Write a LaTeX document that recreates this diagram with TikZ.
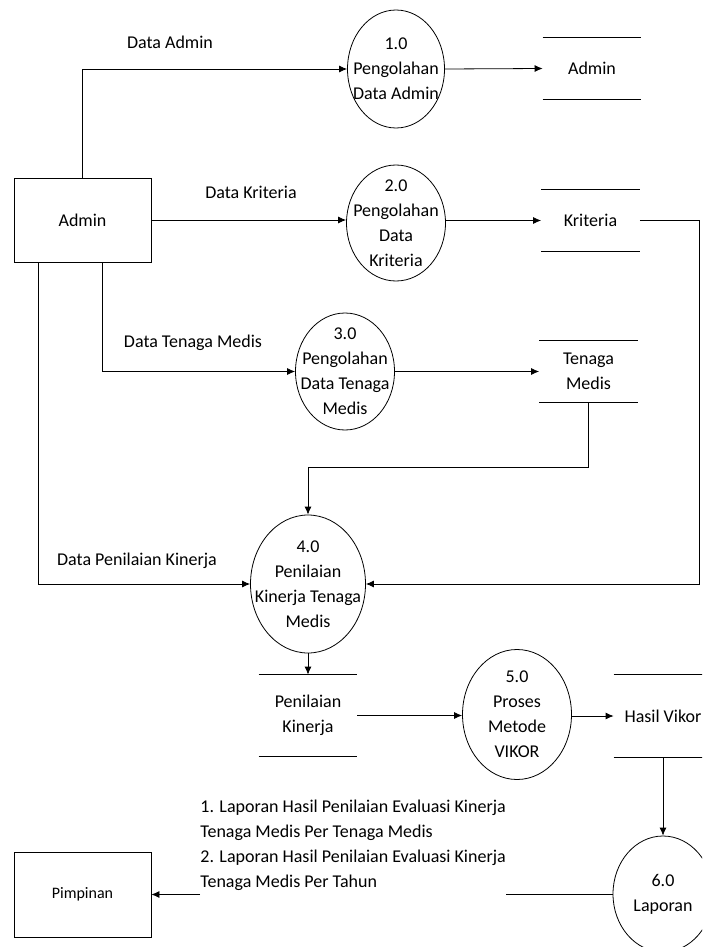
\documentclass[tikz,border=0pt]{standalone}
\usepackage{fontspec}
\setmainfont{Carlito}
\usetikzlibrary{arrows,arrows.meta,shapes,positioning}
\tikzset{
    basic/.style  = {font=\fontsize{18}{25}\selectfont, align=center},
    entity/.style = {basic, draw, rectangle, minimum width=137pt, minimum height=84pt},
    proc/.style   = {basic, draw, ellipse, inner sep=0pt},
    store/.style  = {basic, rectangle, inner sep=0pt, minimum width=98pt, minimum height=61pt},
    flow/.style   = {basic, inner sep=0pt}
}
\begin{document}
\begin{tikzpicture}[x=1pt, y=-1pt, line width=0.8pt, >={Latex[length=8pt,width=7pt]}]
	\useasboundingbox (0,0) rectangle (702,947);
	\clip (0,0) rectangle (702,947);
	% external entities
	\node[entity] (admin) at (82.5,220) {Admin};
	\node[entity, minimum height=85pt, font=\fontsize{16}{20}\selectfont] (pim) at (82.5,894.5) {Pimpinan};
	% processes
	\node[proc, minimum width=97pt, minimum height=118pt,
		label={[basic]center:1.0\\Pengolahan\\Data Admin}] (p1) at (396,69) {};
	\node[proc, minimum width=99pt, minimum height=116pt,
		label={[basic]center:2.0\\Pengolahan\\Data\\Kriteria}] (p2) at (396,223) {};
	\node[proc, minimum width=99pt, minimum height=117pt,
		label={[basic]center:3.0\\Pengolahan\\Data Tenaga\\Medis}] (p3) at (345,371.5) {};
	\node[proc, minimum width=115pt, minimum height=138pt,
		label={[basic]center:4.0\\Penilaian\\Kinerja Tenaga\\Medis}] (p4) at (308,584) {};
	\node[proc, minimum width=109pt, minimum height=130pt,
		label={[basic]center:5.0\\Proses\\Metode\\VIKOR}] (p5) at (517,714.5) {};
	\node[proc, minimum width=100pt, minimum height=116pt,
		label={[basic]center:6.0\\Laporan}] (p6) at (663,894) {};
	% data stores
	\node[store] (sa) at (592,68.5) {Admin};
	\node[store] (sk) at (590.5,220.5) {Kriteria};
	\node[store] (st) at (588.5,371.5) {Tenaga\\Medis};
	\node[store, minimum height=81pt] (sp) at (308,715.5) {Penilaian\\Kinerja};
	\node[store, minimum height=82pt] (sh) at (663,716) {Hasil Vikor};
	\foreach \s in {sa,sk,st,sp,sh}
		\draw (\s.north west) -- (\s.north east) (\s.south west) -- (\s.south east);
	% flow labels
	\node[flow] (fadmin) at (170,42) {Data Admin};
	\node[flow] (fkrit) at (251,192) {Data Kriteria};
	\node[flow] (ftenaga) at (193,343) {Data Tenaga Medis};
	\node[flow] (fnilai) at (137,561) {Data Penilaian Kinerja};
	\node[flow, anchor=west, align=left] (flap) at (200,845)
		{1. Laporan Hasil Penilaian Evaluasi Kinerja\\Tenaga Medis Per Tenaga Medis\\2. Laporan Hasil Penilaian Evaluasi Kinerja\\Tenaga Medis Per Tahun};
	% flows
	\draw[->] (admin.north) |- (p1.west);
	\draw[->] (p1.east) -- (sa.west);
	\draw[->] (admin.east) -- (admin.east -| p2.west);
	\draw[->] (p2.east |- sk.west) -- (sk.west);
	\draw[->] ([xshift=19.5pt]admin.south) |- (p3.west);
	\draw[->] (p3.east) -- (st.west);
	\draw[->] ([xshift=-44.5pt]admin.south) |- (p4.west);
	\draw[->] (sk.east) -- ++(59,0) |- (p4.east);
	\draw[->] (st.south) -- ++(0,65) -| (p4.north);
	\draw[->] (p4.south) -- (sp.north);
	\draw[->] (sp.east) -- (sp.east -| p5.west);
	\draw[->] (p5.east |- sh.west) -- (sh.west);
	\draw[->] (sh.south) -- (p6.north);
	\draw (p6.west) -- (p6.west -| flap.east);
	\draw[->] (flap.west |- pim.east) -- (pim.east);
\end{tikzpicture}
\end{document}
